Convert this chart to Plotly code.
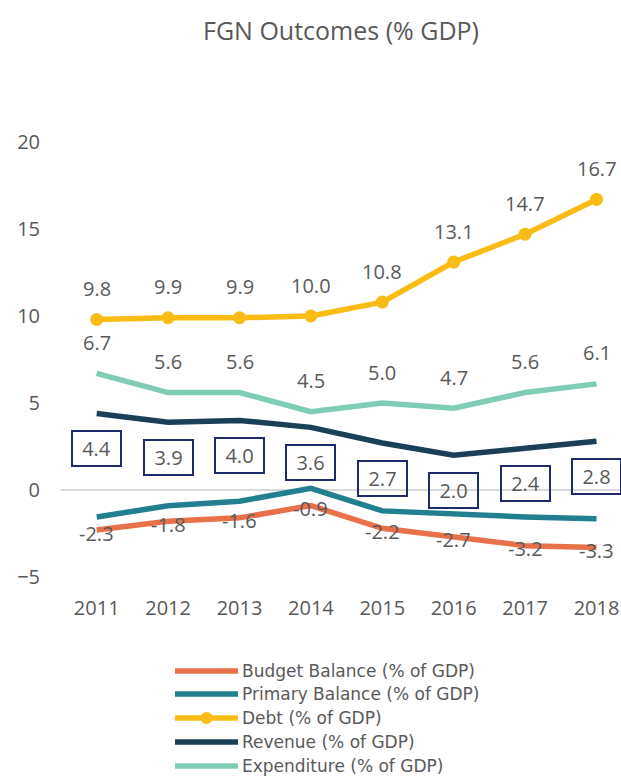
import plotly.graph_objects as go

years = ["2011", "2012", "2013", "2014", "2015", "2016", "2017", "2018"]
budget_balance = [-2.3, -1.8, -1.6, -0.9, -2.2, -2.7, -3.2, -3.3]
primary_balance = [-1.55, -0.9, -0.65, 0.1, -1.2, -1.4, -1.55, -1.65]
debt = [9.8, 9.9, 9.9, 10.0, 10.8, 13.1, 14.7, 16.7]
revenue = [4.4, 3.9, 4.0, 3.6, 2.7, 2.0, 2.4, 2.8]
expenditure = [6.7, 5.6, 5.6, 4.5, 5.0, 4.7, 5.6, 6.1]

names = ["Budget Balance (% of GDP)", "Primary Balance (% of GDP)", "Debt (% of GDP)",
         "Revenue (% of GDP)", "Expenditure (% of GDP)"]
colors = ["#E8714A", "#217F90", "#F9BC15", "#1C3F58", "#7FCDB6"]

W, H = 621, 779
ML, MR, MT, MB = 61, 0, 142, 202
FONT = "Open Sans"
GREY = "#595959"
LABEL_SIZE = 20

fig = go.Figure()
series = [budget_balance, primary_balance, debt, revenue, expenditure]
x_idx = list(range(len(years)))
for name, vals, col in zip(names, series, colors):
    is_debt = name.startswith("Debt")
    fig.add_trace(go.Scatter(
        x=x_idx, y=vals, name=name,
        mode="lines+markers" if is_debt else "lines",
        line=dict(color=col, width=5.5),
        marker=dict(size=13, color=col),
        showlegend=False,
    ))

annotations = []
label_font = dict(family=FONT, size=LABEL_SIZE, color=GREY)
# Value labels
for i, v in enumerate(debt):
    annotations.append(dict(x=i, y=v, xref="x", yref="y", text=f"{v:.1f}", showarrow=False,
                            yshift=31, font=label_font))
for i, v in enumerate(expenditure):
    annotations.append(dict(x=i, y=v, xref="x", yref="y", text=f"{v:.1f}", showarrow=False,
                            yshift=31, font=label_font))
for i, v in enumerate(budget_balance):
    annotations.append(dict(x=i, y=v, xref="x", yref="y", text=f"{v:.1f}", showarrow=False,
                            yshift=-3, font=label_font))
for i, v in enumerate(revenue):
    annotations.append(dict(x=i, y=v, xref="x", yref="y", text=f"{v:.1f}", showarrow=False,
                            yshift=-35, width=45, height=31, align="center",
                            bordercolor="#1F2A6B", borderwidth=2, borderpad=1,
                            bgcolor="rgba(255,255,255,0)", font=label_font))

pw = W - ML - MR
ph = H - MT - MB


def px_x(px):
    return (px - ML) / pw


def px_y(py):
    return (H - MB - py) / ph


# Title
annotations.append(dict(x=px_x(341), y=px_y(30), xref="paper", yref="paper",
                        text="FGN Outcomes (% GDP)", showarrow=False,
                        xanchor="center", yanchor="middle",
                        font=dict(family=FONT, size=25, color=GREY)))

# Legend, drawn as line swatches with text labels
shapes = []
leg_x0, leg_x1, leg_tx = 175, 238, 240
leg_rows = [671, 694, 718, 742, 766]

for name, col, ry in zip(names, colors, leg_rows):
    shapes.append(dict(type="line", xref="paper", yref="paper",
                       x0=px_x(leg_x0), x1=px_x(leg_x1), y0=px_y(ry), y1=px_y(ry),
                       line=dict(color=col, width=5.5)))
    if name.startswith("Debt"):
        cx = (leg_x0 + leg_x1) / 2
        shapes.append(dict(type="circle", xref="paper", yref="paper",
                           x0=px_x(cx - 6), x1=px_x(cx + 6), y0=px_y(ry + 6), y1=px_y(ry - 6),
                           fillcolor=col, line=dict(color=col, width=0)))
    annotations.append(dict(x=px_x(leg_tx), y=px_y(ry), xref="paper", yref="paper",
                            text=name, showarrow=False, xanchor="left", yanchor="middle",
                            font=dict(family="DejaVu Sans", size=17, color=GREY)))

fig.update_layout(
    width=W, height=H,
    margin=dict(l=ML, r=MR, t=MT, b=MB),
    paper_bgcolor="white", plot_bgcolor="white",
    showlegend=False,
    annotations=annotations,
    shapes=shapes,
    xaxis=dict(range=[-0.5, -0.5 + pw / 71.4], tickmode="array", tickvals=x_idx, ticktext=years,
               showgrid=False, zeroline=False, showline=False, ticks="",
               ticklabelstandoff=17,
               tickfont=dict(family=FONT, size=20, color=GREY)),
    yaxis=dict(range=[-5, 20], tickvals=[-5, 0, 5, 10, 15, 20], showgrid=False,
               zeroline=True, zerolinecolor="#D9D9D9", zerolinewidth=2,
               showline=False, ticks="", ticklabelstandoff=20,
               tickfont=dict(family=FONT, size=20, color=GREY)),
)

fig.write_html("out.html")
